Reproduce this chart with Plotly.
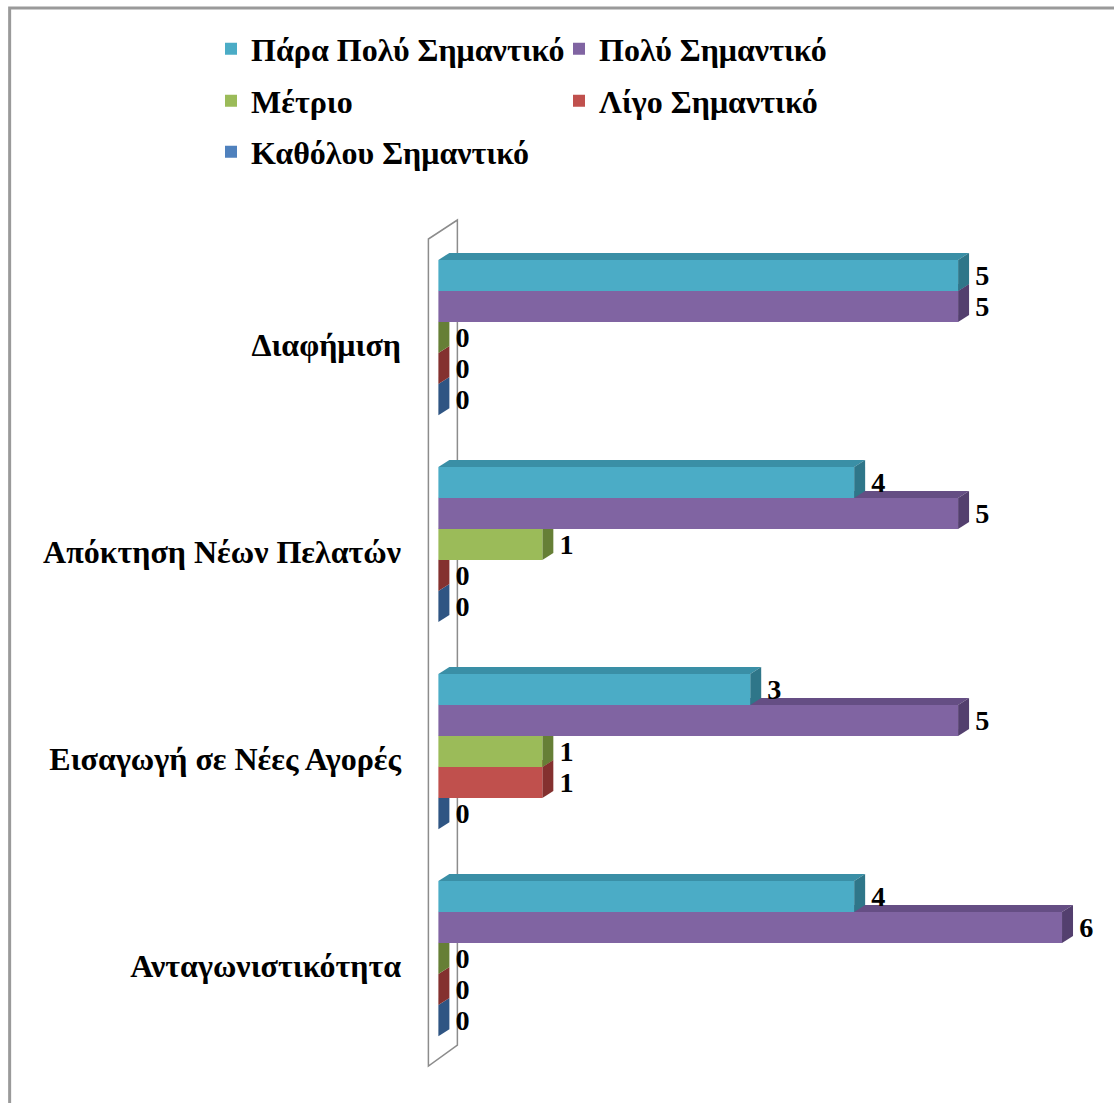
import plotly.graph_objects as go

# ---------------- data ----------------
categories = ["Διαφήμιση", "Απόκτηση Νέων Πελατών", "Εισαγωγή σε Νέες Αγορές", "Ανταγωνιστικότητα"]
series_names = ["Πάρα Πολύ Σημαντικό", "Πολύ Σημαντικό", "Μέτριο", "Λίγο Σημαντικό", "Καθόλου Σημαντικό"]
para_poly = [5, 4, 3, 4]
poly = [5, 5, 5, 6]
metrio = [0, 1, 1, 0]
ligo = [0, 0, 1, 0]
katholou = [0, 0, 0, 0]
series_values = [para_poly, poly, metrio, ligo, katholou]

front_colors = ["#4BACC6", "#8064A2", "#9BBB59", "#C0504D", "#4F81BD"]
top_colors = ["#3A8FA6", "#654E84", "#7D9A43", "#9E3D3A", "#3A679C"]
side_colors = ["#2F7689", "#533F6E", "#667F36", "#84312F", "#2F5583"]

# ---------------- geometry ----------------
W, H = 1114, 1103
XMIN, XMAX = -0.1, 6.5
PX_PER_UNIT = 104.0
PLOT_W = (XMAX - XMIN) * PX_PER_UNIT
L = 438 - (0 - XMIN) * PX_PER_UNIT
R = W - L - PLOT_W
T, B = 234, 41
PLOT_H = H - T - B
BARGAP = 0.25
N = len(series_names)
BW = (1 - BARGAP) / N
DX = 11 / PX_PER_UNIT                # 3D depth (x units)
DY = 7 / (PLOT_H / len(categories))  # 3D depth (category units)

FONT = "Liberation Serif, Times New Roman, serif"


def px2paper(px, py):
    return (px - L) / PLOT_W, 1 - (py - T) / PLOT_H


cat_idx = list(range(len(categories)))

fig = go.Figure()
for i, (name, vals) in enumerate(zip(series_names, series_values)):
    fig.add_trace(go.Bar(
        y=cat_idx, x=vals, orientation="h", name=name,
        marker=dict(color=front_colors[i], line=dict(width=0)),
        texttemplate="\u00a0\u00a0%{x}", textposition="outside",
        textfont=dict(family=FONT, size=30, color="black", weight="bold"),
        cliponaxis=False, hoverinfo="skip",
        legend="legend" if i == 0 else f"legend{i+1}",
    ))

shapes = []
# wall (thin back wall outline)
wl0 = px2paper(428, 1066); wl1 = px2paper(428, 239)
wr0 = px2paper(457, 220); wr1 = px2paper(457, 1045)
shapes.append(dict(type="path", xref="paper", yref="paper", layer="below",
                   path=f"M{wl0[0]},{wl0[1]} L{wl1[0]},{wl1[1]} L{wr0[0]},{wr0[1]} L{wr1[0]},{wr1[1]} Z",
                   line=dict(color="#8C8C8C", width=1.5), fillcolor="rgba(0,0,0,0)"))

# 3D faces derived from data values (bottom series first so upper ones overlap)
for i in reversed(range(N)):
    for j, v in enumerate(series_values[i]):
        c = j - (1 - BARGAP) / 2 + (i + 0.5) * BW
        top = c - BW / 2
        bot = c + BW / 2
        shapes.append(dict(type="path", xref="x", yref="y", layer="below",
                           path=f"M0,{top} L{v},{top} L{v+DX},{top-DY} L{DX},{top-DY} Z",
                           fillcolor=top_colors[i], line=dict(width=0)))
        shapes.append(dict(type="path", xref="x", yref="y", layer="below",
                           path=f"M{v},{top} L{v+DX},{top-DY} L{v+DX},{bot-DY} L{v},{bot} Z",
                           fillcolor=side_colors[i], line=dict(width=0)))

# chart-area border (top and left)
b0 = px2paper(9, 1103); b1 = px2paper(9, 8); b2 = px2paper(1114, 8)
shapes.append(dict(type="path", xref="paper", yref="paper", layer="above",
                   path=f"M{b0[0]},{b0[1]} L{b1[0]},{b1[1]} L{b2[0]},{b2[1]}",
                   line=dict(color="#9A9A9A", width=3), fillcolor="rgba(0,0,0,0)"))

# legends: 2-column grid
legend_pos = [(211, 49), (559, 49), (211, 101), (559, 101), (211, 152)]
legend_layout = {}
for i, (lx, ly) in enumerate(legend_pos):
    key = "legend" if i == 0 else f"legend{i+1}"
    legend_layout[key] = dict(
        xref="container", yref="container", x=lx / W, y=1 - ly / H,
        xanchor="left", yanchor="middle", bgcolor="rgba(0,0,0,0)", borderwidth=0,
        font=dict(family=FONT, size=32, color="black", weight="bold"),
    )

fig.update_layout(
    width=W, height=H, margin=dict(l=L, r=R, t=T, b=B, autoexpand=False),
    paper_bgcolor="white", plot_bgcolor="white",
    barmode="group", bargap=BARGAP, bargroupgap=0,
    showlegend=True,
    xaxis=dict(range=[XMIN, XMAX], visible=False, showgrid=False, zeroline=False),
    yaxis=dict(range=[len(categories) - 0.5, -0.5], tickmode="array", tickvals=cat_idx,
               ticktext=categories, showgrid=False, zeroline=False, showline=False,
               ticks="", ticklabelstandoff=int(round(36 - (0 - XMIN) * PX_PER_UNIT)), ticklabelshift=-7,
               tickfont=dict(family=FONT, size=32, color="black", weight="bold")),
    shapes=shapes,
    **legend_layout,
)

fig.write_html("out.html")
